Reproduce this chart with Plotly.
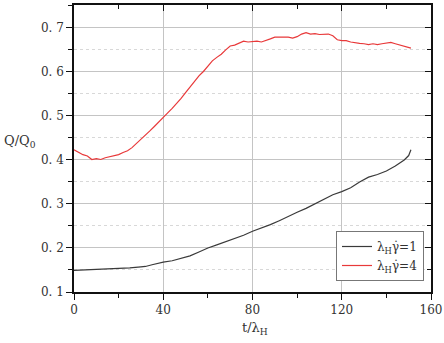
import plotly.graph_objects as go

t_red = [0,2,4,6,8,10,12,14,16,18,20,22,24,26,28,30,32,34,36,38,40,42,44,46,48,50,52,54,56,58,60,62,64,66,68,70,72,74,76,78,80,82,84,86,88,90,92,94,96,98,100,102,104,106,108,110,112,114,116,118,120,122,124,126,128,130,132,134,136,138,140,142,144,146,148,150,151]
q_red = [0.423,0.418,0.412,0.409,0.401,0.403,0.401,0.405,0.407,0.409,0.412,0.417,0.421,0.428,0.437,0.447,0.457,0.466,0.476,0.487,0.497,0.507,0.517,0.528,0.540,0.553,0.566,0.580,0.591,0.601,0.612,0.625,0.633,0.640,0.650,0.659,0.661,0.665,0.670,0.668,0.669,0.670,0.668,0.671,0.675,0.679,0.679,0.680,0.679,0.677,0.680,0.686,0.689,0.686,0.687,0.685,0.686,0.686,0.682,0.673,0.671,0.671,0.668,0.666,0.665,0.664,0.662,0.664,0.662,0.664,0.665,0.667,0.664,0.661,0.659,0.656,0.654]

t_black = [0,5,10,15,20,25,30,32,35,40,44,48,52,56,60,64,68,72,76,80,84,88,92,96,100,104,108,112,116,120,124,128,132,136,140,144,148,150,151]
q_black = [0.149,0.150,0.151,0.152,0.154,0.155,0.157,0.158,0.162,0.168,0.171,0.177,0.182,0.191,0.200,0.207,0.214,0.221,0.229,0.238,0.245,0.253,0.262,0.272,0.281,0.290,0.300,0.311,0.321,0.328,0.337,0.350,0.361,0.367,0.375,0.386,0.400,0.410,0.423]

x_ticks = [0, 40, 80, 120, 160]
y_ticks = [0.1, 0.2, 0.3, 0.4, 0.5, 0.6, 0.7]
y_ticktext = ["0. 1", "0. 2", "0. 3", "0. 4", "0. 5", "0. 6", "0. 7"]

FONT = "DejaVu Serif"

W, H = 444, 343
pl, pr, pt, pb = 74, 13, 5, 51
pw, ph = W - pl - pr, H - pt - pb

fig = go.Figure()
fig.add_trace(go.Scatter(x=t_black, y=q_black, mode="lines", name="λ<sub>H</sub>γ̇=1",
                         line=dict(color="#3a3a3a", width=1.2)))
fig.add_trace(go.Scatter(x=t_red, y=q_red, mode="lines", name="λ<sub>H</sub>γ̇=4",
                         line=dict(color="#e8393a", width=1.2)))
# invisible trace for mirrored inside ticks
fig.add_trace(go.Scatter(x=[0], y=[0.1], xaxis="x2", yaxis="y2", mode="markers",
                         marker=dict(opacity=0), showlegend=False, hoverinfo="skip"))

fig.update_layout(
    width=W, height=H,
    margin=dict(l=pl, r=pr, t=pt, b=pb, autoexpand=False),
    paper_bgcolor="white", plot_bgcolor="white",
    font=dict(family=FONT, size=12, color="#333"),
    xaxis=dict(range=[0, 160], tickvals=x_ticks, ticks="outside", ticklen=6, tickwidth=1.3,
               tickcolor="#111", showline=True, linecolor="#111", linewidth=1.5, mirror=True,
               showgrid=True, gridcolor="#c4c4c4", gridwidth=1, zeroline=False,
               ticklabeloverflow="allow", automargin=False,
               minor=dict(dtick=20, ticks="outside", ticklen=4, tickcolor="#111", showgrid=False),
               tickfont=dict(family=FONT, size=12, color="#333")),
    yaxis=dict(range=[0.1, 0.752], tickvals=y_ticks, ticktext=y_ticktext, ticks="outside",
               ticklen=6, tickwidth=1.3, tickcolor="#111", showline=True, linecolor="#111",
               linewidth=1.5, mirror=True, showgrid=True, gridcolor="#c4c4c4", gridwidth=1,
               zeroline=False, automargin=False,
               minor=dict(dtick=0.05, tick0=0.1, ticks="outside", ticklen=4, tickcolor="#111",
                          showgrid=True, gridcolor="#d8d8d8", griddash="dot"),
               tickfont=dict(family=FONT, size=12, color="#333")),
    xaxis2=dict(overlaying="x", side="top", matches="x", range=[0, 160], tickvals=x_ticks,
                ticks="inside", ticklen=6, tickwidth=1.3, tickcolor="#111", showticklabels=False,
                showgrid=False, zeroline=False,
                minor=dict(dtick=20, ticks="inside", ticklen=4, tickcolor="#111", showgrid=False)),
    yaxis2=dict(overlaying="y", side="right", range=[0.1, 0.752], tickvals=y_ticks,
                ticks="inside", ticklen=6, tickwidth=1.3, tickcolor="#111", showticklabels=False,
                showgrid=False, zeroline=False,
                minor=dict(dtick=0.05, tick0=0.1, ticks="inside", ticklen=4, tickcolor="#111",
                           showgrid=False)),
    legend=dict(x=(424 - pl) / pw, y=(292 - 281) / ph, xanchor="right", yanchor="bottom",
                bgcolor="white", bordercolor="#777", borderwidth=1,
                font=dict(family=FONT, size=12, color="#333"), tracegroupgap=2, itemwidth=30),
    showlegend=True,
    annotations=[
        dict(text="Q/Q<sub>0</sub>", x=(20 - pl) / pw, y=(292 - 141) / ph, xref="paper", yref="paper",
             xanchor="center", yanchor="middle",
             showarrow=False, font=dict(family=FONT, size=13, color="#333")),
        dict(text="t/λ<sub>H</sub>", x=(255 - pl) / pw, y=(292 - 328) / ph, xref="paper", yref="paper",
             xanchor="center", yanchor="middle",
             showarrow=False, font=dict(family=FONT, size=13, color="#333")),
    ],
)

fig.write_html("out.html", config={"displayModeBar": False},
               post_script="document.body.style.margin='0';document.body.style.padding='0';")
